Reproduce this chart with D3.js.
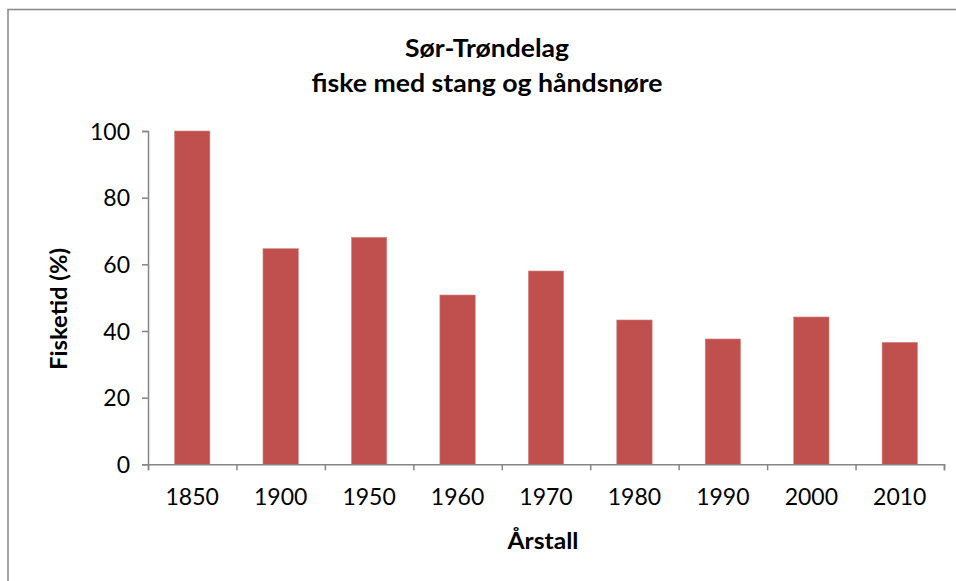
<!DOCTYPE html>
<html><head><meta charset="utf-8">
<script src="https://cdn.jsdelivr.net/npm/d3@7"></script>
<style>body{margin:0;background:#fff}svg{display:block}</style>
</head><body>
<script>
const years = ["1850","1900","1950","1960","1970","1980","1990","2000","2010"];
const values = [100, 64.7, 68.1, 50.8, 58.0, 43.3, 37.6, 44.2, 36.6];
const yTicks = [0, 20, 40, 60, 80, 100];
const titleLines = ["Sør-Trøndelag", "fiske med stang og håndsnøre"];
const xTitle = "Årstall";
const yTitle = "Fisketid (%)";

(function () {
const W = 956, H = 581;
const font = "Lato, 'Open Sans', sans-serif";
const svg = d3.select("body").append("svg").attr("width", W).attr("height", H);
svg.append("rect").attr("x", 8).attr("y", 9.5).attr("width", 1000).attr("height", 1000)
  .attr("fill", "#fff").attr("stroke", "#868686").attr("stroke-width", 1.5);

const pL = 148, pR = 944, pT = 131, pB = 464.3;
const x = d3.scaleBand().domain(years).range([pL, pR]).paddingInner(0.6).paddingOuter(0.3);
const y = d3.scaleLinear().domain([0, 100]).range([pB, pT]);

svg.selectAll("rect.bar").data(values).join("rect").attr("class", "bar")
  .attr("x", (d, i) => x(years[i])).attr("width", x.bandwidth())
  .attr("y", d => y(d)).attr("height", d => y(0) - y(d))
  .attr("fill", "#C0504D").attr("stroke", "#D48A88").attr("stroke-width", 0.6);

const yAx = svg.append("g").attr("transform", `translate(${pL},0)`)
  .call(d3.axisLeft(y).tickValues(yTicks).tickSize(6).tickPadding(12));
yAx.select(".domain").attr("stroke", "#868686").attr("stroke-width", 1.5);
yAx.selectAll(".tick line").attr("stroke", "#868686").attr("stroke-width", 1.5);
yAx.selectAll("text").attr("font-family", font).attr("font-size", 23).attr("fill", "#000")
  .attr("dy", "0.35em");

const xb = d3.scaleLinear().domain([0, years.length]).range([pL, pR]);
const xAx = svg.append("g").attr("transform", `translate(0,${pB})`)
  .call(d3.axisBottom(xb).tickValues(d3.range(years.length + 1)).tickSize(6).tickFormat(""));
xAx.select(".domain").attr("stroke", "#868686").attr("stroke-width", 1.5);
xAx.selectAll(".tick line").attr("stroke", "#868686").attr("stroke-width", 1.5);
svg.append("g").selectAll("text").data(years).join("text")
  .attr("x", d => x(d) + x.bandwidth() / 2).attr("y", 505)
  .attr("text-anchor", "middle").attr("font-family", font).attr("font-size", 23).text(d => d);

const titleW = [164, 351];
svg.append("g").selectAll("text").data(titleLines).join("text")
  .attr("x", 487).attr("y", (d, i) => 57 + i * 35).attr("text-anchor", "middle")
  .attr("font-family", font).attr("font-weight", "bold").attr("font-size", 24)
  .attr("textLength", (d, i) => titleW[i]).attr("lengthAdjust", "spacingAndGlyphs").text(d => d);
svg.append("text").attr("x", 543).attr("y", 549).attr("text-anchor", "middle")
  .attr("font-family", font).attr("font-weight", "bold").attr("font-size", 23)
  .attr("textLength", 71).attr("lengthAdjust", "spacingAndGlyphs").text(xTitle);
svg.append("text").attr("transform", "translate(67,309) rotate(-90)").attr("text-anchor", "middle")
  .attr("font-family", font).attr("font-weight", "bold").attr("font-size", 23)
  .attr("textLength", 122).attr("lengthAdjust", "spacingAndGlyphs").text(yTitle);
})();
</script>
</body></html>
